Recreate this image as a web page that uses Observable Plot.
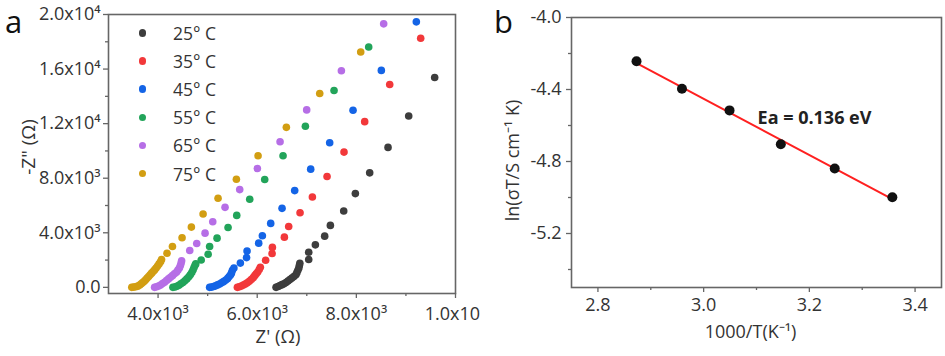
<!DOCTYPE html>
<html><head><meta charset="utf-8">
<script src="https://cdn.jsdelivr.net/npm/d3@7"></script>
<script src="https://cdn.jsdelivr.net/npm/@observablehq/plot@0.6"></script>
<style>
html,body{margin:0;padding:0;background:#fff;}
#wrap{display:flex;width:945px;height:356px;font-family:"Open Sans",sans-serif;overflow:hidden;}
#pa{position:relative;width:480px;height:356px;}
#pb{position:relative;width:465px;height:356px;}
.leg{position:absolute;left:138.5px;top:19px;font-size:17.5px;color:#333;}
.row{height:28.1px;display:flex;align-items:center;}
.sw{width:7.5px;height:7.5px;border-radius:50%;margin-right:27px;}
</style></head><body>
<div id="wrap"><div id="pa"></div><div id="pb"></div></div>
<script>
// ---- Panel a: Nyquist data, [Z', -Z''] in ohm ----
const temps = ["25° C","35° C","45° C","55° C","65° C","75° C"];
const colors = ["#3d3d3d","#f2383a","#1464e6","#22a45a","#b66ee6","#d29e12"];
const z25 = [[6380,0],[6420,60],[6460,130],[6500,200],[6540,270],[6580,360],[6620,460],[6660,570],[6700,680],[6740,800],[6780,920],[6800,1080],[6820,1250],[6840,1420],[6850,1600],[6860,1760],[7039,2037],[7039,2577],[7173,3117],[7361,3755],[7476,4540],[7745,5595],[7980,6871],[8269,8393],[8639,10258],[9056,12565],[9580,15387]];
const z35 = [[5600,0],[5640,40],[5680,100],[5720,170],[5760,250],[5800,340],[5840,450],[5880,580],[5920,720],[5950,860],[5980,1000],[6010,1120],[6040,1300],[6063,1470],[6170,1990],[6300,2480],[6306,2930],[6548,3681],[6635,4466],[6864,5472],[7113,6626],[7409,8123],[7751,9914],[8168,12147],[8673,14871],[9298,18258]];
const z45 = [[5040,0],[5080,20],[5120,60],[5160,110],[5200,180],[5240,250],[5280,330],[5320,420],[5360,520],[5400,640],[5430,770],[5460,900],[5480,1040],[5500,1250],[5530,1420],[5660,1780],[5785,2180],[5795,2660],[6030,3239],[6104,3779],[6272,4687],[6501,5791],[6756,7092],[7079,8663],[7462,10601],[7933,12982],[8504,15902],[9210,19460]];
const z55 = [[4300,0],[4340,30],[4380,80],[4420,160],[4460,260],[4500,360],[4540,480],[4580,620],[4620,770],[4650,920],[4680,1090],[4705,1270],[4725,1450],[4745,1620],[4760,1720],[4870,2000],[5010,2430],[5040,3000],[5190,3607],[5412,4393],[5587,5276],[5849,6454],[6151,7902],[6521,9644],[6972,11804],[7550,14430],[8249,17620]];
const z65 = [[3930,0],[3970,40],[4010,100],[4050,170],[4090,280],[4130,380],[4170,500],[4210,620],[4250,740],[4290,860],[4330,990],[4370,1110],[4400,1260],[4430,1420],[4450,1600],[4465,1780],[4475,1950],[4639,2699],[4780,3215],[4948,3975],[5103,4810],[5351,5865],[5647,7166],[6003,8712],[6461,10675],[6998,13006],[7698,15877],[8551,19313]];
const z75 = [[3470,0],[3510,20],[3550,40],[3590,90],[3630,170],[3660,260],[3690,350],[3720,450],[3750,560],[3780,680],[3810,800],[3840,920],[3870,1040],[3900,1160],[3930,1280],[3960,1420],[3990,1560],[4020,1720],[4050,1880],[4070,2040],[4180,2500],[4290,3000],[4484,3632],[4672,4417],[4908,5374],[5210,6528],[5580,7926],[6017,9644],[6588,11730],[7261,14209],[8088,17252]];
const aXTicks = [4000,6000,8000,10000];
const aXLabels = ["4.0x10³","6.0x10³","8.0x10³","1.0x10⁴"];
const aXMinor = [5000,7000,9000];
const aYTicks = [0,4000,8000,12000,16000,20000];
const aYLabels = ["0.0","4.0x10³","8.0x10³","1.2x10⁴","1.6x10⁴","2.0x10⁴"];
const aYMinor = [2000,6000,10000,14000,18000];

// ---- Panel b: Arrhenius data ----
const invT = [2.873,2.959,3.049,3.146,3.248,3.357];
const lnSigmaT = [-4.243,-4.396,-4.516,-4.704,-4.839,-4.999];
const bXTicks = [2.8,3.0,3.2,3.4];
const bXMinor = [2.9,3.1,3.3];
const bYTicks = [-4.0,-4.4,-4.8,-5.2];
const bYMinor = [-4.2,-4.6,-5.0,-5.4];
const eaLabel = "Ea = 0.136 eV";

const series = [z25,z35,z45,z55,z65,z75];
const nyq = series.flatMap((s,k)=>s.map(([re,im])=>({re,im,t:temps[k]})));
const style = {fontFamily:"'Open Sans',sans-serif",fontSize:"18px",color:"#333",background:"#fff",overflow:"visible"};
const ax = {stroke:"#666",strokeWidth:1.3,fontSize:18,label:null,fill:"#333"};

const pa = Plot.plot({
  width:480,height:356,marginLeft:108,marginRight:25,marginTop:14,marginBottom:63,
  style,
  x:{domain:[3000,10000]},
  y:{domain:[-450,20000]},
  color:{domain:temps,range:colors},
  marks:[
    Plot.dot(nyq,{x:"re",y:"im",fill:"t",r:3.8}),
    Plot.frame({stroke:"#666",strokeWidth:1.6}),
    Plot.axisX(aXTicks,{...ax,tickSize:5,tickPadding:9,tickFormat:d=>aXLabels[aXTicks.indexOf(d)]}),
    Plot.axisX(aXMinor,{...ax,tickSize:3,tickFormat:()=>""}),
    Plot.axisY(aYTicks,{...ax,tickSize:5,tickPadding:3,tickFormat:d=>aYLabels[aYTicks.indexOf(d)]}),
    Plot.axisY(aYMinor,{...ax,tickSize:3,tickFormat:()=>""}),
    Plot.text(["-Z\" (Ω)"],{frameAnchor:"left",textAnchor:"middle",dx:-80,dy:-7,rotate:-90,fontSize:19,fill:"#333"}),
    Plot.text(["Z' (Ω)"],{frameAnchor:"bottom",textAnchor:"middle",dx:-4,dy:49,fontSize:18.5,fill:"#333"}),
    Plot.text(["a"],{frameAnchor:"top-left",textAnchor:"middle",dx:-95,dy:-4,fontSize:31,fill:"#111"})
  ]
});
document.getElementById("pa").appendChild(pa);
const leg = document.createElement("div"); leg.className="leg";
temps.forEach((t,i)=>{const r=document.createElement("div");r.className="row";
  const s=document.createElement("span");s.className="sw";s.style.background=colors[i];
  const l=document.createElement("span");l.textContent=t;r.appendChild(s);r.appendChild(l);leg.appendChild(r);});
document.getElementById("pa").appendChild(leg);

const arr = invT.map((x,i)=>({x,y:lnSigmaT[i]}));
const pb = Plot.plot({
  width:465,height:356,marginLeft:91,marginRight:4,marginTop:17,marginBottom:69,
  style,
  x:{domain:[2.75,3.45]},
  y:{domain:[-5.5,-4.0]},
  marks:[
    Plot.linearRegressionY(arr,{x:"x",y:"y",stroke:"#ff2020",strokeWidth:2,ci:0}),
    Plot.dot(arr,{x:"x",y:"y",r:5,fill:"#111"}),
    Plot.frame({stroke:"#666",strokeWidth:1.6}),
    Plot.axisX(bXTicks,{...ax,tickSize:5,tickPadding:6,tickFormat:d3.format(".1f")}),
    Plot.axisX(bXMinor,{...ax,tickSize:3,tickFormat:()=>""}),
    Plot.axisY(bYTicks,{...ax,tickSize:5,tickPadding:5,tickFormat:d=>d3.format(".1f")(d).replace("−","-")}),
    Plot.axisY(bYMinor,{...ax,tickSize:3,tickFormat:()=>""}),
    Plot.text([eaLabel],{frameAnchor:"top-left",textAnchor:"middle",dx:243,dy:94,fontSize:18,fontWeight:"bold",fill:"#222"}),
    Plot.text(["ln(σT/S cm⁻¹ K)"],{frameAnchor:"left",textAnchor:"middle",dx:-58,dy:8,rotate:-90,fontSize:18,fill:"#333"}),
    Plot.text(["1000/T(K⁻¹)"],{frameAnchor:"bottom",textAnchor:"middle",dx:-6,dy:50,fontSize:18,fill:"#333"}),
    Plot.text(["b"],{frameAnchor:"top-left",textAnchor:"middle",dx:-68,dy:-7,fontSize:31,fill:"#111"})
  ]
});
document.getElementById("pb").appendChild(pb);
</script>
</body></html>
